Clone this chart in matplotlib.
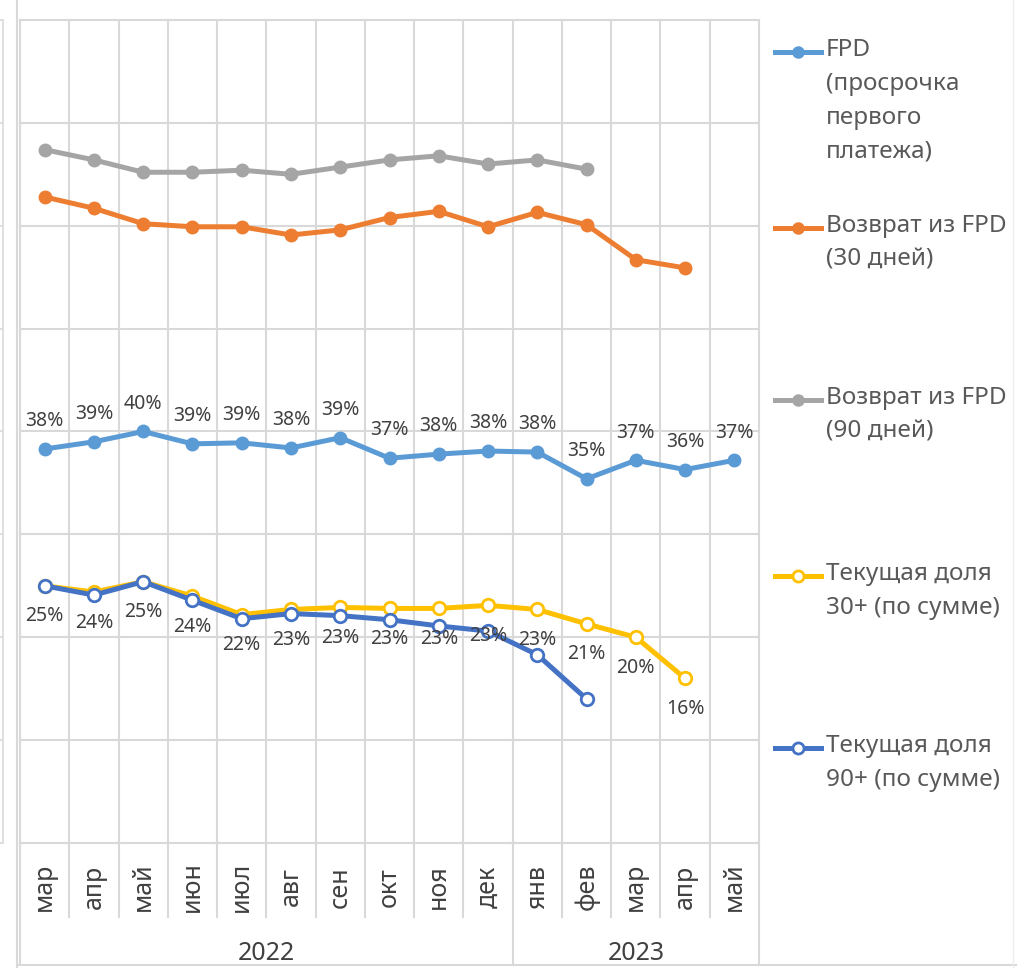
import numpy as np
import matplotlib.pyplot as plt
import matplotlib.transforms as mtransforms
from matplotlib.lines import Line2D

plt.rcParams['font.family'] = ['Noto Sans', 'DejaVu Sans']

# ---- data ----
months = ['мар', 'апр', 'май', 'июн', 'июл', 'авг', 'сен', 'окт', 'ноя', 'дек',
          'янв', 'фев', 'мар', 'апр', 'май']
years = ['2022', '2023']
year_sizes = [10, 5]

fpd = [38.3, 39.0, 40.0, 38.8, 38.9, 38.4, 39.4, 37.4, 37.8, 38.1, 38.0, 35.4, 37.2, 36.3, 37.2]
ret30 = [62.8, 61.7, 60.2, 59.9, 59.9, 59.1, 59.6, 60.8, 61.4, 59.9, 61.3, 60.1, 56.7, 55.9]
ret90 = [67.4, 66.4, 65.2, 65.2, 65.4, 65.0, 65.7, 66.4, 66.8, 66.0, 66.4, 65.5]
cur30 = [25.0, 24.4, 25.4, 24.0, 22.2, 22.7, 22.9, 22.8, 22.8, 23.1, 22.7, 21.3, 20.0, 16.0]
cur90 = [25.0, 24.1, 25.4, 23.6, 21.8, 22.3, 22.1, 21.7, 21.1, 20.6, 18.3, 14.0]

names = ['FPD\n(просрочка\nпервого\nплатежа)',
         'Возврат из FPD\n(30 дней)',
         'Возврат из FPD\n(90 дней)',
         'Текущая доля\n30+ (по сумме)',
         'Текущая доля\n90+ (по сумме)']
colors = ['#5B9BD5', '#ED7D31', '#A5A5A5', '#FFC000', '#4472C4']
hollow = [False, False, False, True, True]
series = [fpd, ret30, ret90, cur30, cur90]

W, H = 1017, 968
fig = plt.figure(figsize=(W / 100, H / 100), dpi=100)
ax = fig.add_axes([20 / W, 1 - 843 / H, (759 - 20) / W, (843 - 20) / H])

n = len(months)
ax.set_xlim(-0.5, n - 0.5)
ax.set_ylim(0, 80)

grid_c = '#D9D9D9'
for yv in range(10, 81, 10):
    ax.axhline(yv, color=grid_c, lw=1.5, zorder=0, clip_on=False)
for b in np.arange(-0.5, n, 1.0):
    ax.axvline(b, color=grid_c, lw=1.5, zorder=0, clip_on=False)
ax.axhline(0, color=grid_c, lw=1.5, zorder=0, clip_on=False)

for s in ['top', 'right', 'bottom']:
    ax.spines[s].set_visible(False)
ax.spines['left'].set_position(('outward', 12))
ax.spines['left'].set_color(grid_c)
ax.spines['left'].set_linewidth(1.2)
ax.set_yticks(range(0, 81, 10))
ax.set_yticklabels([])
ax.tick_params(axis='y', length=3, color=grid_c, width=1.2)
ax.set_xticks([])

# ---- lines ----
x = np.arange(n)
for vals, c, h in zip(series, colors, hollow):
    xs = x[:len(vals)]
    ax.plot(xs, vals, color=c, lw=3.6, marker='o', ms=9,
            mfc='white' if h else c, mec=c, mew=2 if h else 1,
            solid_capstyle='round', zorder=3, clip_on=False)

lab_c = '#404040'
for xi, v in zip(x, fpd):
    ax.annotate(f'{v:.0f}%', (xi, v), xytext=(0, 20), textcoords='offset points',
                ha='center', va='center', fontsize=14, color=lab_c)
for xi, v in zip(x, cur30):
    ax.annotate(f'{v:.0f}%', (xi, v), xytext=(0, -22), textcoords='offset points',
                ha='center', va='center', fontsize=14, color=lab_c, zorder=5)

# ---- multi-level category axis ----
trans = mtransforms.blended_transform_factory(ax.transData, ax.transAxes)
ah = 843 - 20
long_b = [-0.5] + list(np.cumsum(year_sizes) - 0.5)
for b in np.arange(-0.5, n, 1.0):
    depth = 122 if b in long_b else 74
    ax.plot([b, b], [0, -depth / ah], transform=trans, color=grid_c, lw=1.5, clip_on=False)
for xi, m in zip(x, months):
    ax.text(xi, -44 / ah, m, transform=trans, rotation=90, ha='center', va='center',
            fontsize=18, color=lab_c)
start = 0
for yr, sz in zip(years, year_sizes):
    ax.text(start + (sz - 1) / 2, -111 / ah, yr, transform=trans, ha='center', va='center',
            fontsize=18, color=lab_c)
    start += sz

# ---- outer frame ----
fig.add_artist(Line2D([17 / W, 17 / W], [0, 1], transform=fig.transFigure, color=grid_c, lw=1.5))
fig.add_artist(Line2D([17 / W, 1], [1 - 965 / H, 1 - 965 / H], transform=fig.transFigure, color=grid_c, lw=1.5))
fig.add_artist(Line2D([1013 / W, 1013 / W], [0, 1], transform=fig.transFigure, color='#EEEEEE', lw=1))

# ---- legend ----
leg_y = [52, 228, 400, 576, 748]
for name, c, h, ly in zip(names, colors, hollow, leg_y):
    fy = 1 - ly / H
    fig.add_artist(Line2D([775 / W, 821 / W], [fy, fy], transform=fig.transFigure, color=c, lw=3.6))
    fig.add_artist(Line2D([798 / W], [fy], transform=fig.transFigure, marker='o', ms=8,
                          mfc='white' if h else c, mec=c, mew=2 if h else 1))
    fig.text(826 / W, fy + 14 / H, name, ha='left', va='top', fontsize=17.5,
             color='#595959', linespacing=1.55)

fig.savefig('out.png', dpi=100)
